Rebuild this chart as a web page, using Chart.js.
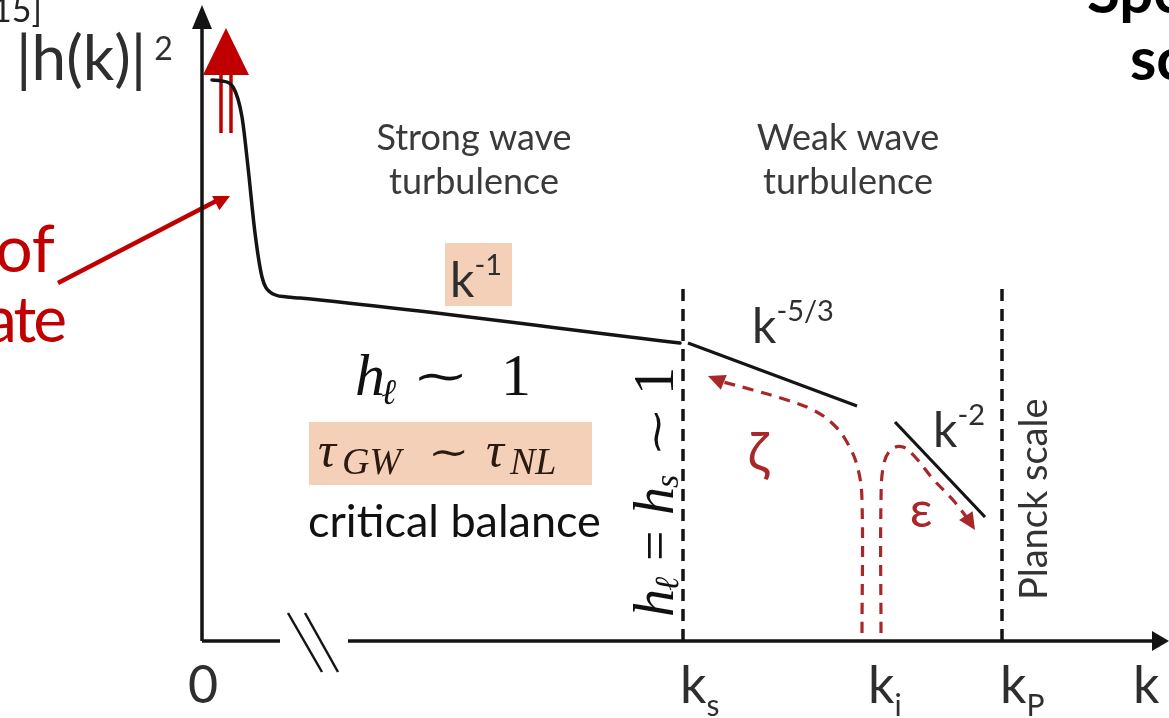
<!DOCTYPE html>
<html>
<head>
<meta charset="utf-8">
<script src="https://cdn.jsdelivr.net/npm/chart.js@4/dist/chart.umd.min.js"></script>
<style>
  html, body { margin: 0; padding: 0; background: #ffffff; overflow: hidden; }
  #wrap { width: 1169px; height: 718px; }
</style>
</head>
<body>
<div id="wrap"><canvas id="c" width="1169" height="718"></canvas></div>
<script>
// Schematic turbulence spectrum |h(k)|^2 versus k (units: origin at the axes corner)

// --- spectrum curve: condensate peak dropping onto the k^-1 plateau, up to k_s
const spectrumK = [10, 20, 31, 40, 46, 53, 60, 68, 85, 98, 478];
const spectrumH = [561, 560, 554, 524, 474, 408, 364, 349, 344, 343, 298];

// --- inertial-range power-law segments
const weakK = [486, 655];          // k^-5/3
const weakH = [298, 235];
const dissK = [693, 783];          // k^-2
const dissH = [219, 124];

// --- characteristic scales on the k axis
const scaleK = [481, 800];         // k_s and k_P (dashed markers)
const scaleTop = 356;
const tickLabels = [
  { main: '0',  sub: '',  k: 1,   center: true },
  { main: 'k',  sub: 's', k: 478 },
  { main: 'k',  sub: 'i', k: 666 },
  { main: 'k',  sub: 'P', k: 798 },
  { main: 'k',  sub: '',  k: 931 }
];

// --- cascades injected at k_i: inverse (zeta) and direct (epsilon)
const zetaK = [660, 660, 656, 646, 631, 611, 585, 551, 521];
const zetaH = [8, 140, 172, 197, 217, 231, 241, 251, 259];
const zetaTip = [506, 265];
const epsK = [679, 679, 682, 690, 701, 714, 731, 751, 766];
const epsH = [8, 140, 178, 192, 194, 183, 162, 141, 122];
const epsTip = [773, 111];

// --- axes
const axisY = { k: [0, 0], h: [0, 618], tip: [0, 636] };
const axisXLeft = { k: [0, 78], h: [0, 0] };
const axisXRight = { k: [146, 952], h: [0, 0], tip: [967, 0] };
const breakA = { k: [86, 120], h: [28, -31] };
const breakB = { k: [103, 136], h: [28, -31] };

// --- red condensate arrows
const pointerK = [-144, 18];
const pointerH = [358, 442];
const pointerTip = [28, 445];
const growthShaftK = [19, 29];
const growthShaftH = [508, 568];
const growthTip = [24, 613];
const growthHalf = 23;

const INK = '#141414';
const RED = '#c00000';
const DASHRED = '#a8282a';

function pts(xs, ys) { return xs.map((x, i) => ({ x: x, y: ys[i] })); }
function lineSet(data, color, width, extra) {
  return Object.assign({
    data: data, showLine: true, borderColor: color, borderWidth: width,
    pointRadius: 0, fill: false, tension: 0, borderCapStyle: 'butt'
  }, extra || {});
}

const datasets = [
  lineSet(pts(axisY.k, axisY.h), INK, 3.5),
  lineSet(pts(axisXLeft.k, axisXLeft.h), INK, 3.5),
  lineSet(pts(axisXRight.k, axisXRight.h), INK, 3.5),
  lineSet(pts(breakA.k, breakA.h), INK, 2.5),
  lineSet(pts(breakB.k, breakB.h), INK, 2.5),
  lineSet(pts(spectrumK, spectrumH), INK, 3.5, { cubicInterpolationMode: 'monotone', borderCapStyle: 'round' }),
  lineSet(pts(weakK, weakH), INK, 3.2),
  lineSet(pts(dissK, dissH), INK, 3.2),
  lineSet(pts([scaleK[0], scaleK[0]], [0, scaleTop]), INK, 3.5, { borderDash: [12, 8] }),
  lineSet(pts([scaleK[1], scaleK[1]], [0, scaleTop]), INK, 3.5, { borderDash: [12, 8] }),
  lineSet(pts(zetaK, zetaH), DASHRED, 3.2, { borderDash: [11, 8], tension: 0.4 }),
  lineSet(pts(epsK, epsH), DASHRED, 3.2, { borderDash: [11, 8], tension: 0.4 }),
  lineSet(pts(pointerK, pointerH), RED, 4.5),
  lineSet(pts([growthShaftK[0], growthShaftK[0]], growthShaftH), RED, 3.5),
  lineSet(pts([growthShaftK[1], growthShaftK[1]], growthShaftH), RED, 3.5)
];

const SANS = 'Lato, "Open Sans", sans-serif';
const SERIF = '"Liberation Serif", "DejaVu Serif", serif';
const REL = '"DejaVu Serif", serif';
const GREY = '#2e2e2e';

// draw a sequence of text runs (base, superscript, subscript) from a start point;
// a run with `at` is placed at that offset from the start instead of flowing,
// and `sx` widens a glyph horizontally (used for the wide relation tilde)
function drawRuns(ctx, x, y, runs, align, spacing) {
  ctx.letterSpacing = spacing || '0px';
  let total = 0;
  const w = runs.map(r => { ctx.font = r.font; const m = ctx.measureText(r.t).width * (r.sx || 1) + (r.gap || 0); total += m; return m; });
  let cx = align === 'center' ? x - total / 2 : align === 'right' ? x - total : x;
  const x0 = cx;
  ctx.textBaseline = 'alphabetic';
  ctx.textAlign = 'left';
  runs.forEach((r, i) => {
    ctx.font = r.font;
    ctx.fillStyle = r.color;
    if (r.at !== undefined) cx = x0 + r.at;
    if (r.sx) {
      ctx.save();
      ctx.translate(cx + (r.pre || 0), y + (r.dy || 0));
      ctx.scale(r.sx, 1);
      ctx.fillText(r.t, 0, 0);
      ctx.restore();
    } else {
      ctx.fillText(r.t, cx + (r.pre || 0), y + (r.dy || 0));
    }
    cx += w[i];
  });
  ctx.letterSpacing = '0px';
}

function arrowHead(ctx, tip, from, len, half, color) {
  const dx = tip[0] - from[0], dy = tip[1] - from[1];
  const d = Math.hypot(dx, dy); const ux = dx / d, uy = dy / d;
  const bx = tip[0] - ux * len, by = tip[1] - uy * len;
  ctx.beginPath();
  ctx.moveTo(tip[0], tip[1]);
  ctx.lineTo(bx - uy * half, by + ux * half);
  ctx.lineTo(bx + uy * half, by - ux * half);
  ctx.closePath();
  ctx.fillStyle = color;
  ctx.fill();
}

const decorations = {
  id: 'decorations',
  beforeDatasetsDraw(chart) {
    const ctx = chart.ctx, sx = chart.scales.x, sy = chart.scales.y;
    const X = v => sx.getPixelForValue(v), Y = v => sy.getPixelForValue(v);
    // highlight boxes behind k^-1 and the critical-balance relation
    ctx.save();
    ctx.fillStyle = 'rgba(236, 170, 128, 0.55)';
    ctx.fillRect(X(243), Y(398), X(310) - X(243), Y(335) - Y(398));
    ctx.fillRect(X(107), Y(219), X(390) - X(107), Y(156) - Y(219));
    ctx.restore();
  },
  afterDatasetsDraw(chart) {
    const ctx = chart.ctx, sx = chart.scales.x, sy = chart.scales.y;
    const X = v => sx.getPixelForValue(v), Y = v => sy.getPixelForValue(v);
    const P = (k, h) => [X(k), Y(h)];
    ctx.save();

    // axis arrowheads
    arrowHead(ctx, P(axisY.tip[0], axisY.tip[1]), P(0, 0), 24, 10, INK);
    arrowHead(ctx, P(axisXRight.tip[0], axisXRight.tip[1]), P(0, 0), 17, 10, INK);

    // red growth arrow and pointer
    ctx.beginPath();
    ctx.moveTo(X(growthTip[0]), Y(growthTip[1]));
    ctx.lineTo(X(growthTip[0] - growthHalf), Y(growthShaftH[1] - 2));
    ctx.lineTo(X(growthTip[0] + growthHalf), Y(growthShaftH[1] - 2));
    ctx.closePath();
    ctx.fillStyle = RED; ctx.fill();
    arrowHead(ctx, P(pointerTip[0], pointerTip[1]), P(pointerK[0], pointerH[0]), 16, 8, RED);

    // cascade arrowheads
    arrowHead(ctx, P(zetaTip[0], zetaTip[1]), P(zetaK[zetaK.length - 1], zetaH[zetaH.length - 1]), 17, 8, DASHRED);
    arrowHead(ctx, P(epsTip[0], epsTip[1]), P(epsK[epsK.length - 1], epsH[epsH.length - 1]), 17, 8, DASHRED);

    // axis titles and clipped side text
    drawRuns(ctx, X(-210), Y(619), [{ t: '15]', font: `34px ${SANS}`, color: '#222' }]);
    drawRuns(ctx, X(-186), Y(561), [
      { t: '|h(k)|', font: `62px ${SANS}`, color: GREY },
      { t: '2', font: `32px ${SANS}`, color: GREY, dy: -20, pre: 8 }
    ]);
    drawRuns(ctx, X(-147), Y(369), [{ t: 'of', font: `66px ${SANS}`, color: RED }], 'right');
    drawRuns(ctx, X(-138), Y(299), [{ t: 'ate', font: `64px ${SANS}`, color: RED }], 'right', '-3px');
    drawRuns(ctx, X(885), Y(628), [{ t: 'Spe', font: `bold 60px ${SANS}`, color: '#000' }]);
    drawRuns(ctx, X(928), Y(561), [{ t: 'sc', font: `bold 60px ${SANS}`, color: '#000' }]);

    // regime titles
    const regFont = `36px ${SANS}`;
    drawRuns(ctx, X(272), Y(491), [{ t: 'Strong wave', font: regFont, color: '#3a3a3a' }], 'center');
    drawRuns(ctx, X(272), Y(447), [{ t: 'turbulence', font: regFont, color: '#3a3a3a' }], 'center');
    drawRuns(ctx, X(646), Y(491), [{ t: 'Weak wave', font: regFont, color: '#3a3a3a' }], 'center');
    drawRuns(ctx, X(646), Y(447), [{ t: 'turbulence', font: regFont, color: '#3a3a3a' }], 'center');

    // power-law labels
    const kFont = `48px ${SANS}`, supFont = `29px ${SANS}`;
    drawRuns(ctx, X(248), Y(344), [{ t: 'k', font: kFont, color: GREY }, { t: '-1', font: supFont, color: GREY, dy: -22 }]);
    drawRuns(ctx, X(550), Y(298), [{ t: 'k', font: kFont, color: GREY }, { t: '-5/3', font: supFont, color: GREY, dy: -22 }]);
    drawRuns(ctx, X(731), Y(194), [{ t: 'k', font: kFont, color: GREY }, { t: '-2', font: supFont, color: GREY, dy: -22 }]);

    // strong-turbulence relations
    drawRuns(ctx, X(153), Y(246), [
      { t: 'h', font: `italic 60px ${SERIF}`, color: '#111' },
      { t: 'ℓ', font: `italic 36px ${SERIF}`, color: '#111', dy: 9, at: 26 },
      { t: '∼', font: `44px ${REL}`, color: '#111', at: 57, sx: 1.55, dy: -4 },
      { t: '1', font: `60px ${SERIF}`, color: '#111', at: 146 }
    ]);
    drawRuns(ctx, X(116), Y(174), [
      { t: 'τ', font: `italic 50px ${SERIF}`, color: '#2a1a10' },
      { t: 'GW', font: `italic 38px ${SERIF}`, color: '#2a1a10', dy: 7, at: 24 },
      { t: '∼', font: `38px ${REL}`, color: '#2a1a10', at: 110, sx: 1.3, dy: -2 },
      { t: 'τ', font: `italic 50px ${SERIF}`, color: '#2a1a10', at: 168 },
      { t: 'NL', font: `italic 38px ${SERIF}`, color: '#2a1a10', dy: 7, at: 192 }
    ]);
    drawRuns(ctx, X(106), Y(104), [{ t: 'critical balance', font: `45px ${SANS}`, color: '#111' }]);

    // rotated labels along the dashed scales
    ctx.save();
    ctx.translate(X(471), Y(24));
    ctx.rotate(-Math.PI / 2);
    drawRuns(ctx, 0, 0, [
      { t: 'h', font: `italic 56px ${SERIF}`, color: '#111' },
      { t: 'ℓ', font: `italic 34px ${SERIF}`, color: '#111', dy: 5, at: 26 },
      { t: '=', font: `54px ${SERIF}`, color: '#111', at: 56 },
      { t: 'h', font: `italic 56px ${SERIF}`, color: '#111', at: 102 },
      { t: 's', font: `italic 34px ${SERIF}`, color: '#111', dy: 5, at: 129 },
      { t: '∼', font: `40px ${REL}`, color: '#111', at: 160, sx: 1.5, dy: -3 },
      { t: '1', font: `56px ${SERIF}`, color: '#111', at: 222 }
    ]);
    ctx.restore();
    ctx.save();
    ctx.translate(X(845), Y(41));
    ctx.rotate(-Math.PI / 2);
    drawRuns(ctx, 0, 0, [{ t: 'Planck scale', font: `38px ${SANS}`, color: '#333' }]);
    ctx.restore();

    // cascade symbols
    drawRuns(ctx, X(556), Y(170), [{ t: 'ζ', font: `54px ${SANS}`, color: DASHRED }], 'center');
    drawRuns(ctx, X(719), Y(114), [{ t: 'ε', font: `50px ${SANS}`, color: DASHRED }], 'center');

    // k-axis labels
    tickLabels.forEach(l => {
      const runs = [{ t: l.main, font: `52px ${SANS}`, color: GREY }];
      if (l.sub) runs.push({ t: l.sub, font: `30px ${SANS}`, color: GREY, dy: 13 });
      drawRuns(ctx, X(l.k), Y(-62), runs, l.center ? 'center' : 'left');
    });
    ctx.restore();
  }
};

new Chart(document.getElementById('c'), {
  type: 'scatter',
  data: { datasets: datasets },
  options: {
    responsive: false,
    animation: false,
    events: [],
    layout: { padding: 0 },
    plugins: { legend: { display: false }, tooltip: { enabled: false } },
    scales: {
      x: { type: 'linear', display: false, min: -202, max: 967 },
      y: { type: 'linear', display: false, min: -77, max: 641 }
    }
  },
  plugins: [decorations]
});
</script>
</body>
</html>
